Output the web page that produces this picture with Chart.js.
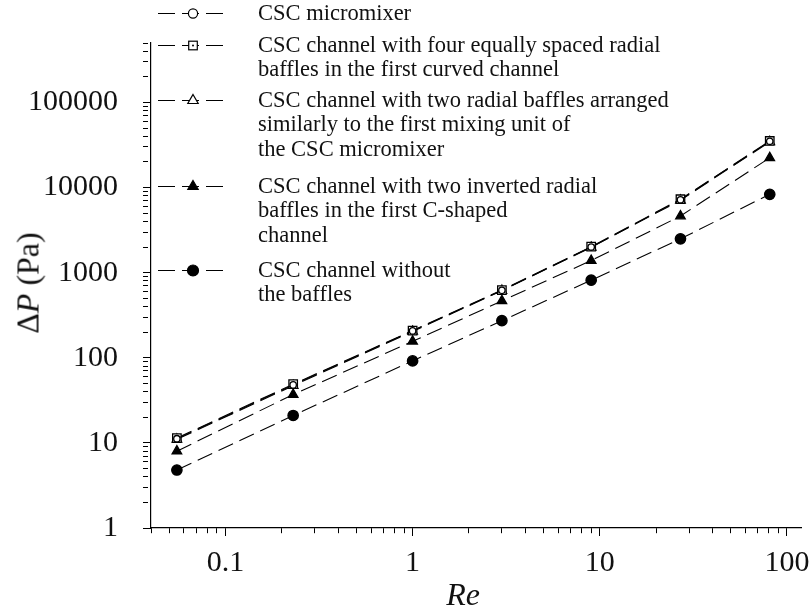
<!DOCTYPE html>
<html>
<head>
<meta charset="utf-8">
<script src="https://cdn.jsdelivr.net/npm/chart.js@4.4.1/dist/chart.umd.min.js"></script>
<style>
html, body { margin: 0; padding: 0; background: #fff; }
#wrap { position: relative; width: 809px; height: 611px; }
#legend { position: absolute; left: 158px; top: 1px; font-family: "Liberation Serif", serif; font-size: 22.5px; line-height: 24.5px; color: #111; }
.item { display: flex; align-items: flex-start; }
.item:nth-child(1) { margin-bottom: 7px; }
.item:nth-child(2) { margin-bottom: 6px; }
.item:nth-child(3) { margin-bottom: 12.5px; }
.item:nth-child(4) { margin-bottom: 10.5px; }
.item svg { flex: none; }
#ytitle { position: absolute; left: 28px; top: 283px; transform: translate(-50%, -50%) rotate(-90deg); font-family: "Liberation Serif", serif; font-size: 32px; white-space: nowrap; color: #111; }
#xtitle { position: absolute; left: 463px; top: 594px; transform: translate(-50%, -50%); font-family: "Liberation Serif", serif; font-size: 32px; font-style: italic; white-space: nowrap; color: #111; }
</style>
</head>
<body>
<div id="wrap">
  <canvas id="grafico" width="809" height="611"></canvas>
  <div id="legend"></div>
  <div id="ytitle">&Delta;<i>P</i> (Pa)</div>
  <div id="xtitle">Re</div>
</div>
<script>
// valores
const reValues = [0.055, 0.23, 1, 3, 9, 27, 81];
const dpMicromixer = [11.2, 48, 207, 620, 2000, 7200, 35000];
const dpFourBaffles = [11.4, 49, 209, 625, 2020, 7300, 35300];
const dpTwoBaffles = [11.0, 47, 204, 615, 1980, 7100, 34500];
const dpInverted = [8.0, 37, 156, 466, 1390, 4630, 22400];
const dpNoBaffles = [4.8, 21, 92, 273, 816, 2500, 8340];

const xMajorTicks = [0.1, 1, 10, 100];
const xTickLabels = ['0.1', '1', '10', '100'];
const yMajorTicks = [1, 10, 100, 1000, 10000, 100000];
const yTickLabels = ['1', '10', '100', '1000', '10000', '100000'];

const legendLines = [
    ['CSC micromixer'],
    ['CSC channel with four equally spaced radial', 'baffles in the first curved channel'],
    ['CSC channel with two radial baffles arranged', 'similarly to the first mixing unit of', 'the CSC micromixer'],
    ['CSC channel with two inverted radial', 'baffles in the first C-shaped', 'channel'],
    ['CSC channel without', 'the baffles']
];

const markers = [
    { style: 'circle', radius: 3.2, fill: '#fff' },
    { style: 'rect', radius: 6, fill: '#fff' },
    { style: 'triangle', radius: 5.5, fill: '#fff' },
    { style: 'triangle', radius: 5.5, fill: '#000' },
    { style: 'circle', radius: 5.2, fill: '#000' }
];
const seriesData = [dpMicromixer, dpFourBaffles, dpTwoBaffles, dpInverted, dpNoBaffles];

function logTicks(min, max) {
    const out = [];
    for (let e = Math.floor(Math.log10(min)); e <= Math.ceil(Math.log10(max)); e++) {
        for (let m = 1; m <= 9; m++) {
            const v = parseFloat((m * Math.pow(10, e)).toPrecision(6));
            if (v >= min * 0.999 && v <= max * 1.001) out.push(v);
        }
    }
    return out;
}

function isMajor(v, majors) {
    return majors.some(m => Math.abs(v / m - 1) < 1e-6);
}

function labelFor(v, majors, labels) {
    const i = majors.findIndex(m => Math.abs(v / m - 1) < 1e-6);
    return i >= 0 ? labels[i] : '';
}

const fonteTicks = { family: 'Liberation Serif', size: 30 };

const datasets = seriesData.map((arr, i) => ({
    label: legendLines[i].join(' '),
    data: reValues.map((x, j) => ({ x: x, y: arr[j] })),
    borderColor: '#000',
    borderWidth: 1.1,
    borderDash: [16, 7],
    backgroundColor: markers[i].fill,
    pointStyle: markers[i].style,
    pointRadius: markers[i].radius,
    pointBorderColor: '#000',
    pointBackgroundColor: markers[i].fill,
    pointBorderWidth: 1.3,
    tension: 0,
    fill: false
}));

function gridOpts(majors) {
    return {
        drawOnChartArea: false,
        drawTicks: true,
        tickLength: 8,
        tickColor: '#000',
        tickWidth: 1,
        tickBorderDash: ctx => (ctx.tick && isMajor(ctx.tick.value, majors)) ? [] : [5, 40]
    };
}

new Chart(document.getElementById('grafico').getContext('2d'), {
    type: 'line',
    data: { datasets: datasets },
    options: {
        responsive: false,
        animation: false,
        layout: { padding: { left: 0, top: 37, right: 0, bottom: 0 } },
        plugins: { legend: { display: false }, tooltip: { enabled: false } },
        scales: {
            x: {
                type: 'logarithmic',
                min: 0.04,
                max: 120,
                border: { display: true, color: '#000', width: 1.2 },
                grid: gridOpts(xMajorTicks),
                afterBuildTicks: s => { s.ticks = logTicks(0.04, 120).map(v => ({ value: v })); },
                afterFit: s => { s.height = 83; s.paddingLeft = 0; s.paddingRight = 0; },
                ticks: {
                    autoSkip: false, maxRotation: 0, minRotation: 0,
                    color: '#111', font: fonteTicks, padding: 9,
                    callback: v => labelFor(v, xMajorTicks, xTickLabels)
                }
            },
            y: {
                type: 'logarithmic',
                min: 1,
                max: 500000,
                border: { display: true, color: '#000', width: 1.2 },
                grid: gridOpts(yMajorTicks),
                afterBuildTicks: s => { s.ticks = logTicks(1, 500000).map(v => ({ value: v })); },
                afterFit: s => { s.width = 151; },
                ticks: {
                    autoSkip: false, color: '#111', font: fonteTicks, padding: 25,
                    callback: v => labelFor(v, yMajorTicks, yTickLabels)
                }
            }
        }
    }
});

// legenda em HTML (texto em várias linhas)
function markerSvg(mk) {
    const cx = 35, cy = 12.5;
    let shape = '';
    if (mk.style === 'circle') {
        const r = mk.fill === '#000' ? 5.5 : 4.6;
        shape = `<circle cx="${cx}" cy="${cy}" r="${r}" fill="${mk.fill}" stroke="#000" stroke-width="1.2"/>`;
    } else if (mk.style === 'rect') {
        shape = `<rect x="${cx - 4.3}" y="${cy - 4.3}" width="8.6" height="8.6" fill="#fff" stroke="#000" stroke-width="1.2"/>` +
                `<circle cx="${cx}" cy="${cy}" r="1" fill="#000"/>`;
    } else {
        const r = 6;
        const pts = [[cx, cy - r], [cx + r * 0.866, cy + r / 2], [cx - r * 0.866, cy + r / 2]].map(p => p.join(',')).join(' ');
        shape = `<polygon points="${pts}" fill="${mk.fill}" stroke="#000" stroke-width="1.2"/>`;
    }
    return `<svg width="100" height="24.5"><line x1="0" y1="${cy}" x2="67" y2="${cy}" stroke="#000" stroke-width="1.1" stroke-dasharray="17 7"/>${shape}</svg>`;
}

const legend = document.getElementById('legend');
legendLines.forEach((lines, i) => {
    const div = document.createElement('div');
    div.className = 'item';
    div.innerHTML = markerSvg(markers[i]) + `<div>${lines.join('<br>')}</div>`;
    legend.appendChild(div);
});
</script>
</body>
</html>
